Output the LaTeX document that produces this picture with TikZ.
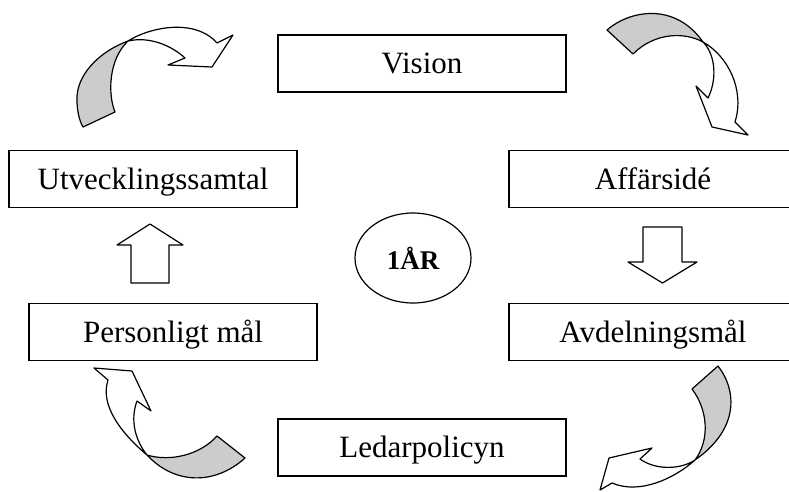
\documentclass[tikz,border=0pt]{standalone}
\usepackage{fontspec}
\setmainfont{Liberation Serif}
\usetikzlibrary{shapes.geometric}
\definecolor{bandgray}{gray}{0.8}

\tikzset{
	goal/.style={draw, line width=1.5pt, minimum width=288pt, minimum height=57pt,
		inner sep=0pt, text height=20.5pt, text depth=0pt, font=\fontsize{31}{36}\selectfont},
	band/.style={draw, line width=1.2pt, line join=round},
}

\begin{document}
\begin{tikzpicture}[x=1pt,y=-1pt]
	\useasboundingbox (0,0) rectangle (789,491);
	\clip (0,0) rectangle (789,491);

	\node[goal] (vision) at (422,63.5) {Vision};
	\node[goal] (affar) at (653,179) {Affärsidé};
	\node[goal] (avdel) at (653,332) {Avdelningsmål};
	\node[goal] (ledar) at (422,447.5) {Ledarpolicyn};
	\node[goal] (person) at (173,332) {Personligt mål};
	\node[goal] (utveck) at (153,179) {Utvecklingssamtal};

	\node[ellipse, draw, line width=1.2pt, minimum width=116pt, minimum height=90pt,
		inner sep=0pt, font=\bfseries\fontsize{27}{30}\selectfont] (year) at (413,258) {1ÅR};

	% straight block arrows
	\draw[band] (131,283)--(131,245)--(117,245)--(150,224)--(183,245)--(169,245)--(169,283)--cycle;
	\draw[band] (643,227)--(643,262)--(628,262)--(662.5,283)--(697,262)--(682,262)--(682,227)--cycle;

	% curved arrows, twist points
	\coordinate (TL) at (128,41);
	\coordinate (TR) at (703,42);
	\coordinate (BR) at (695,460);
	\coordinate (BL) at (147,455);

	% top left
	\filldraw[band, fill=bandgray] (TL) .. controls (98,52) and (76,76) .. (77,100)
		.. controls (77,110) and (79,120) .. (83,127) -- (115,112)
		.. controls (108,95) and (108,60) .. (TL) -- cycle;
	\filldraw[band, fill=white] (TL) .. controls (150,27) and (195,18) .. (217,43)
		-- (233,35) -- (212,67) -- (168,65) -- (185,58)
		.. controls (172,46) and (150,36) .. (TL) -- cycle;

	% top right
	\filldraw[band, fill=bandgray] (607,30) .. controls (630,10) and (675,2) .. (TR)
		.. controls (685,32) and (655,32) .. (633,54) -- cycle;
	\filldraw[band, fill=white] (TR) .. controls (728,56) and (745,90) .. (735,122)
		-- (748,135) -- (712,127) -- (696,86) -- (708,98)
		.. controls (717,80) and (716,55) .. (TR) -- cycle;

	% bottom right
	\filldraw[band, fill=bandgray] (718,366) .. controls (738,392) and (738,430) .. (BR)
		.. controls (710,440) and (708,410) .. (692,389) -- cycle;
	\filldraw[band, fill=white] (BR) .. controls (675,478) and (640,495) .. (612,483)
		-- (600,490) -- (609,458) -- (652,448) -- (640,459)
		.. controls (655,470) and (680,470) .. (BR) -- cycle;

	% bottom left
	\filldraw[band, fill=bandgray] (BL) .. controls (175,485) and (215,485) .. (245,458)
		-- (217,436) .. controls (200,455) and (170,462) .. (BL) -- cycle;
	\filldraw[band, fill=white] (BL) .. controls (120,432) and (100,405) .. (108,380)
		-- (94,368) -- (132,371) -- (151,411) -- (137,401)
		.. controls (130,420) and (135,440) .. (BL) -- cycle;
\end{tikzpicture}
\end{document}
